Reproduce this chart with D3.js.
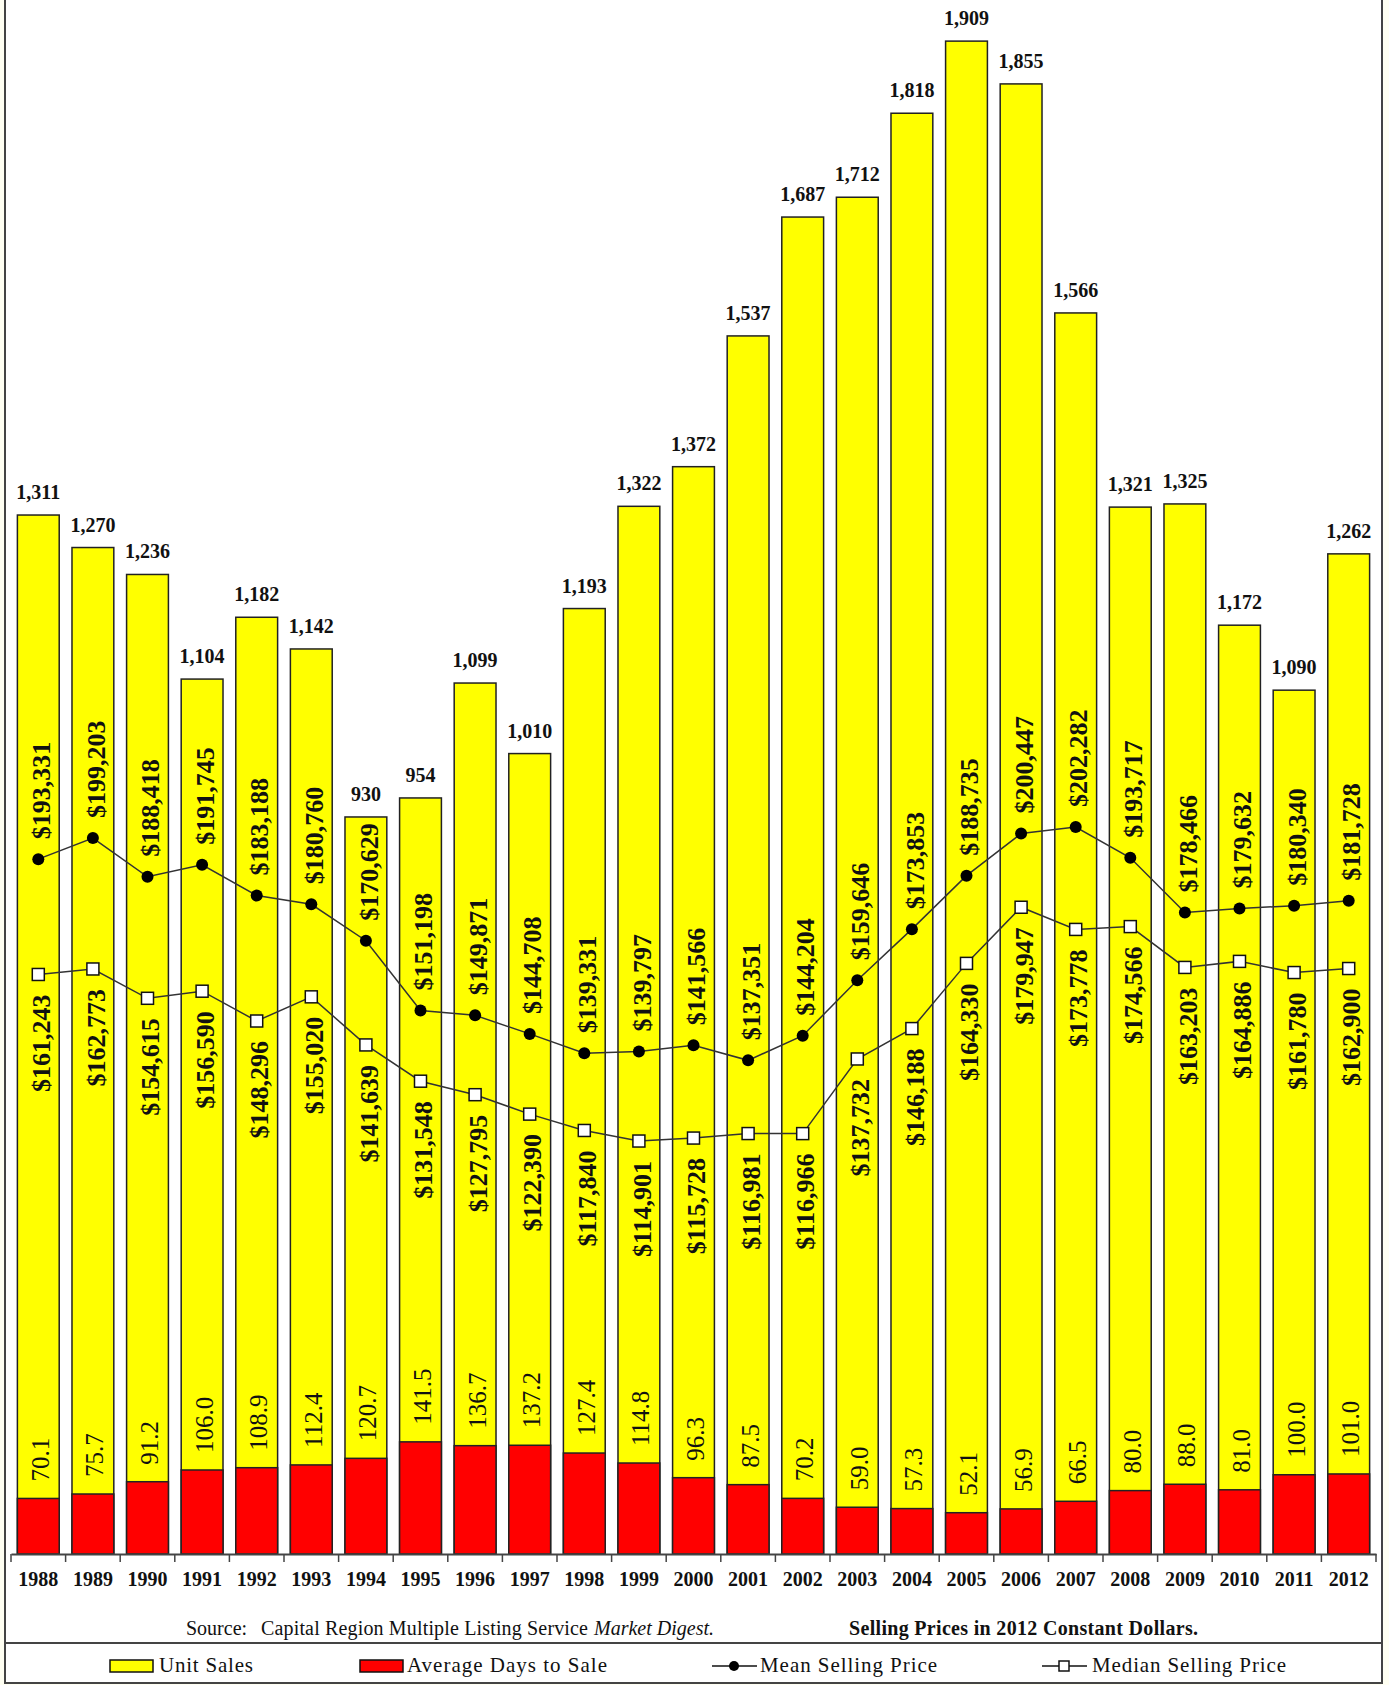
<!DOCTYPE html>
<html>
<head>
<meta charset="utf-8">
<script src="https://cdn.jsdelivr.net/npm/d3@7"></script>
<style>
  body { margin: 0; background: #fffff2; }
  svg { display: block; font-family: "Liberation Serif", "Times New Roman", serif; }
</style>
</head>
<body>
<svg id="chart"></svg>
<script>
'use strict';
// data
var years = ['1988','1989','1990','1991','1992','1993','1994','1995','1996','1997','1998','1999','2000',
             '2001','2002','2003','2004','2005','2006','2007','2008','2009','2010','2011','2012'];
var unitSales = [1311, 1270, 1236, 1104, 1182, 1142, 930, 954, 1099, 1010, 1193, 1322, 1372,
                 1537, 1687, 1712, 1818, 1909, 1855, 1566, 1321, 1325, 1172, 1090, 1262];
var daysToSale = [70.1, 75.7, 91.2, 106.0, 108.9, 112.4, 120.7, 141.5, 136.7, 137.2, 127.4, 114.8, 96.3,
                  87.5, 70.2, 59.0, 57.3, 52.1, 56.9, 66.5, 80.0, 88.0, 81.0, 100.0, 101.0];
var meanPrice = [193331, 199203, 188418, 191745, 183188, 180760, 170629, 151198, 149871, 144708, 139331, 139797, 141566,
                 137351, 144204, 159646, 173853, 188735, 200447, 202282, 193717, 178466, 179632, 180340, 181728];
var medianPrice = [161243, 162773, 154615, 156590, 148296, 155020, 141639, 131548, 127795, 122390, 117840, 114901, 115728,
                   116981, 116966, 137732, 146188, 164330, 179947, 173778, 174566, 163203, 164886, 161780, 162900];
var legendLabels = ['Unit Sales', 'Average Days to Sale', 'Mean Selling Price', 'Median Selling Price'];

var W = 1389, H = 1685,
    baseY = 1554,
    plotH = 1585,
    frame = {left: 5, right: 1382, bottom: 1683}
;
var rows = years.map(function(y, i) {
    return {year: y, units: unitSales[i], days: daysToSale[i], mean: meanPrice[i], median: medianPrice[i]};
});

var svg = d3.select('#chart').attr('width', W).attr('height', H);

// frame
svg.append('rect')
    .attr('x', frame.left).attr('y', -5)
    .attr('width', frame.right - frame.left).attr('height', frame.bottom + 5)
    .attr('fill', 'white')
    .attr('stroke', '#444')
    .attr('stroke-width', 2)
;
svg.append('line')
    .attr('x1', frame.left).attr('x2', frame.right)
    .attr('y1', 1643).attr('y2', 1643)
    .attr('stroke', '#444').attr('stroke-width', 2)
;

// scales
var x = d3.scaleBand()
    .domain(years)
    .range([11, 1376])
    .paddingInner(0.234)
    .paddingOuter(0.117)
;
var y = d3.scaleLinear().domain([0, 2000]).range([baseY, baseY - plotH]);
var yPrice = d3.scaleLinear().domain([0, 441000]).range([baseY, baseY - plotH]);
var cx = function(d) { return x(d.year) + x.bandwidth() / 2; };
var fmt = d3.format(',');
var money = function(v) { return '$' + fmt(v); };

var g = svg.append('g');

// unit sales bars
g.selectAll('.units')
    .data(rows).enter()
    .append('rect')
    .attr('class', 'units')
    .attr('x', function(d) { return x(d.year); })
    .attr('y', function(d) { return y(d.units); })
    .attr('width', x.bandwidth())
    .attr('height', function(d) { return baseY - y(d.units); })
    .attr('fill', '#ffff00')
    .attr('stroke', '#222')
    .attr('stroke-width', 1.5)
;
// days to sale bars
g.selectAll('.days')
    .data(rows).enter()
    .append('rect')
    .attr('class', 'days')
    .attr('x', function(d) { return x(d.year); })
    .attr('y', function(d) { return y(d.days); })
    .attr('width', x.bandwidth())
    .attr('height', function(d) { return baseY - y(d.days); })
    .attr('fill', '#ff0000')
    .attr('stroke', '#222')
    .attr('stroke-width', 1.5)
;

// x axis
var axisG = svg.append('g')
    .attr('transform', 'translate(0,' + baseY + ')')
    .call(d3.axisBottom(x).tickSize(0).tickPadding(18))
;
axisG.select('.domain').attr('stroke', '#444').attr('stroke-width', 2);
axisG.selectAll('text')
    .attr('font-family', '"Liberation Serif", serif')
    .attr('font-size', 20)
    .attr('font-weight', 'bold')
    .attr('fill', '#111')
;
var edges = years.map(function(yr) { return x(yr) - x.step() * x.paddingInner() / 2; });
edges.push(x.range()[1]);
axisG.selectAll('.edge')
    .data(edges).enter()
    .append('line')
    .attr('x1', function(d) { return d; }).attr('x2', function(d) { return d; })
    .attr('y1', 0).attr('y2', 8)
    .attr('stroke', '#444').attr('stroke-width', 1.5)
;

// price lines
function addLine(key) {
    g.append('path')
        .datum(rows)
        .attr('fill', 'none')
        .attr('stroke', '#333')
        .attr('stroke-width', 1.5)
        .attr('d', d3.line().x(cx).y(function(d) { return yPrice(d[key]); }))
    ;
}
addLine('mean');
addLine('median');

g.selectAll('.meanPt')
    .data(rows).enter()
    .append('circle')
    .attr('cx', cx)
    .attr('cy', function(d) { return yPrice(d.mean); })
    .attr('r', 6)
    .attr('fill', '#000')
;
g.selectAll('.medPt')
    .data(rows).enter()
    .append('rect')
    .attr('x', function(d) { return cx(d) - 6; })
    .attr('y', function(d) { return yPrice(d.median) - 6; })
    .attr('width', 12).attr('height', 12)
    .attr('fill', 'white')
    .attr('stroke', '#111')
    .attr('stroke-width', 1.5)
;

// labels
g.selectAll('.unitLbl')
    .data(rows).enter()
    .append('text')
    .attr('x', cx)
    .attr('y', function(d) { return y(d.units) - 16; })
    .attr('text-anchor', 'middle')
    .attr('font-size', 20)
    .attr('font-weight', 'bold')
    .attr('fill', '#111')
    .text(function(d) { return fmt(d.units); })
;
g.selectAll('.meanLbl')
    .data(rows).enter()
    .append('text')
    .attr('transform', function(d) { return 'translate(' + cx(d) + ',' + (yPrice(d.mean) - 20) + ') rotate(-90)'; })
    .attr('dy', '0.45em')
    .attr('text-anchor', 'start')
    .attr('font-size', 26)
    .attr('font-weight', 'bold')
    .attr('fill', '#111')
    .text(function(d) { return money(d.mean); })
;
g.selectAll('.medLbl')
    .data(rows).enter()
    .append('text')
    .attr('transform', function(d) { return 'translate(' + cx(d) + ',' + (yPrice(d.median) + 20) + ') rotate(-90)'; })
    .attr('dy', '0.45em')
    .attr('text-anchor', 'end')
    .attr('font-size', 26)
    .attr('font-weight', 'bold')
    .attr('fill', '#111')
    .text(function(d) { return money(d.median); })
;
g.selectAll('.dayLbl')
    .data(rows).enter()
    .append('text')
    .attr('transform', function(d) { return 'translate(' + cx(d) + ',' + (y(d.days) - 17) + ') rotate(-90)'; })
    .attr('dy', '0.42em')
    .attr('text-anchor', 'start')
    .attr('font-size', 25)
    .attr('fill', '#111')
    .text(function(d) { return d.days.toFixed(1); })
;

// source note
var src = svg.append('text')
    .attr('y', 1635)
    .attr('font-size', 20)
    .attr('fill', '#111')
;
src.append('tspan').attr('x', 186).text('Source:');
src.append('tspan').attr('x', 261).attr('textLength', 327).text('Capital Region Multiple Listing Service');
src.append('tspan').attr('x', 594).attr('font-style', 'italic').text('Market Digest.');
svg.append('text')
    .attr('x', 849).attr('y', 1635)
    .attr('textLength', 349)
    .attr('font-size', 20)
    .attr('font-weight', 'bold')
    .attr('fill', '#111')
    .text('Selling Prices in 2012 Constant Dollars.')
;

// legend
var legY = 1666;
var leg = svg.append('g').attr('font-size', 21).attr('fill', '#111');
function swatch(x0, color) {
    leg.append('rect')
        .attr('x', x0).attr('y', legY - 6)
        .attr('width', 43).attr('height', 12)
        .attr('fill', color).attr('stroke', '#111').attr('stroke-width', 1.5);
}
function lineKey(x0, marker) {
    leg.append('line')
        .attr('x1', x0).attr('x2', x0 + 45)
        .attr('y1', legY).attr('y2', legY)
        .attr('stroke', '#111').attr('stroke-width', 1.5);
    if (marker === 'circle') {
        leg.append('circle').attr('cx', x0 + 22).attr('cy', legY).attr('r', 5).attr('fill', '#000');
    } else {
        leg.append('rect').attr('x', x0 + 17).attr('y', legY - 5).attr('width', 10).attr('height', 10)
            .attr('fill', 'white').attr('stroke', '#111').attr('stroke-width', 1.5);
    }
}
function legText(x0, len, t) {
    leg.append('text').attr('x', x0).attr('y', legY + 6).attr('textLength', len).text(t);
}
swatch(110, '#ffff00');
legText(159, 94, legendLabels[0]);
swatch(360, '#ff0000');
legText(407, 200, legendLabels[1]);
lineKey(712, 'circle');
legText(760, 177, legendLabels[2]);
lineKey(1042, 'square');
legText(1092, 194, legendLabels[3]);
</script>
</body>
</html>
